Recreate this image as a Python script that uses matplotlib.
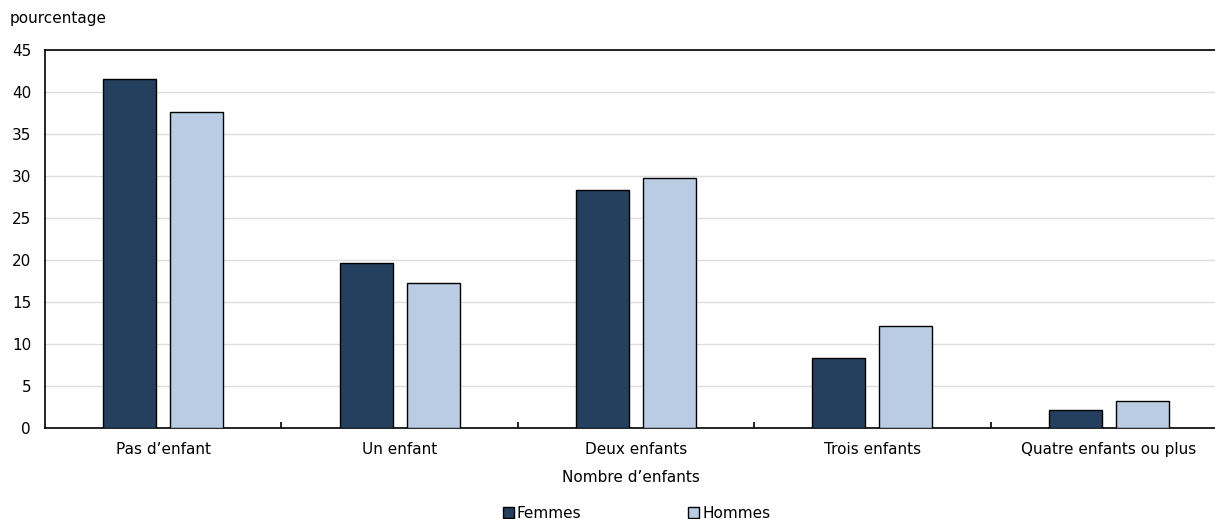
import matplotlib.pyplot as plt
import numpy as np

plt.rcParams['font.family'] = ['DejaVu Sans']

categories = ["Pas d\u2019enfant", "Un enfant", "Deux enfants", "Trois enfants", "Quatre enfants ou plus"]
femmes = [41.6, 19.6, 28.3, 8.3, 2.2]
hommes = [37.6, 17.3, 29.8, 12.2, 3.2]
series_names = ["Femmes", "Hommes"]

W, H = 1215, 519
fig = plt.figure(figsize=(W / 100, H / 100), dpi=100)
# plot area runs slightly past the right edge of the image
ax = fig.add_axes([45 / W, 1 - 428 / H, (1227 - 45) / W, (428 - 50) / H])

x = np.arange(len(categories))
w = 0.224
off = 0.142
b1 = ax.bar(x - off, femmes, w, color='#253f5f', edgecolor='black', linewidth=1, label=series_names[0], zorder=3)
b2 = ax.bar(x + off, hommes, w, color='#b9cce4', edgecolor='black', linewidth=1, label=series_names[1], zorder=3)

ax.set_xlim(-0.5, len(categories) - 0.5)
ax.set_ylim(0, 45)
ax.set_yticks(np.arange(0, 46, 5))
ax.yaxis.grid(True, color='#dcdcdc', linewidth=1, zorder=0)
ax.set_axisbelow(True)

# category labels centred, tick marks between groups
ax.set_xticks(x)
ax.set_xticklabels(categories, fontsize=11)
ax.tick_params(axis='x', length=0, pad=10)
ax.set_xticks(np.arange(0.5, len(categories) - 1, 1), minor=True)
ax.tick_params(axis='x', which='minor', direction='in', length=4, width=1.2, color='black')
ax.tick_params(axis='y', length=0, labelsize=11, pad=10)

for s in ax.spines.values():
    s.set_color('black')
    s.set_linewidth(1.2)

ax.set_xlabel("Nombre d\u2019enfants", fontsize=11)
ax.xaxis.set_label_coords((631 - 45) / (1227 - 45), -(470 - 428) / (428 - 50))
fig.text(10 / W, 1 - 18 / H, "pourcentage", fontsize=11, va='center', ha='left')

fig.legend(handles=[b1, b2], labels=series_names, loc='center', bbox_to_anchor=(0.524, 1 - 513 / H),
           ncol=2, frameon=False, fontsize=11, handlelength=0.7, handleheight=0.7,
           handletextpad=0.2, columnspacing=7.0)

fig.savefig("out.png", dpi=100)
